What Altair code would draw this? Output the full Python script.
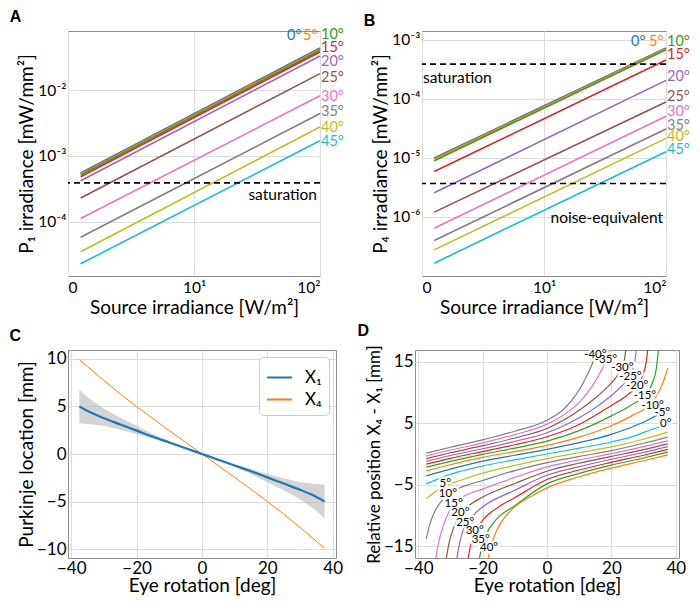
import altair as alt
import pandas as pd

FONT = "Lato"
TAB10 = ["#1f77b4", "#ff7f0e", "#2ca02c", "#d62728", "#9467bd",
         "#8c564b", "#e377c2", "#7f7f7f", "#bcbd22", "#17becf"]

# ---------------- Panels A / B ----------------
angles = ["0°", "5°", "10°", "15°", "20°", "25°", "30°", "35°", "40°", "45°"]
source_irr = [1.26, 100.0]
p1_at_start = [5.5e-4, 5.3e-4, 5.1e-4, 4.8e-4, 4.2e-4, 2.3e-4, 1.12e-4, 5.8e-5, 3.5e-5, 2.3e-5]
p1_at_end = [4.35e-2, 4.2e-2, 4.0e-2, 3.8e-2, 3.3e-2, 1.78e-2, 8.2e-3, 4.4e-3, 2.75e-3, 1.7e-3]
p4_at_start = [1.0e-5, 9.6e-6, 9.0e-6, 5.9e-6, 2.57e-6, 1.21e-6, 6.45e-7, 4.0e-7, 2.77e-7, 1.65e-7]
p4_at_end = [7.3e-4, 7.1e-4, 6.8e-4, 4.57e-4, 2.07e-4, 8.9e-5, 5.1e-5, 3.1e-5, 2.15e-5, 1.28e-5]
p1_saturation = 3.9e-4
p4_saturation = 3.9e-4
p4_noise = 3.7e-6

# ---------------- Panel C ----------------
eye_rot = [-37.5, -35, -30, -25, -20, -15, -10, -5, 0, 5, 10, 15, 20, 25, 30, 35, 37.5]
x1_mean = [4.97, 4.5, 3.75, 3.1, 2.45, 1.8, 1.2, 0.6, 0, -0.6, -1.2, -1.8, -2.45, -3.1, -3.75, -4.5, -4.97]
x1_upper = [6.75, 5.95, 4.75, 3.8, 2.95, 2.1, 1.35, 0.65, 0, -0.55, -1.1, -1.6, -2.1, -2.55, -2.95, -3.15, -3.2]
x1_lower = [3.2, 3.15, 2.95, 2.55, 2.1, 1.6, 1.1, 0.55, 0, -0.65, -1.35, -2.1, -2.95, -3.8, -4.75, -5.95, -6.75]
x4_vals = [9.88, 9.15, 7.7, 6.3, 4.97, 3.7, 2.45, 1.22, 0, -1.22, -2.45, -3.7, -4.97, -6.3, -7.7, -9.15, -9.88]

# ---------------- Panel D (contour lines) ----------------
d_levels = ["-40°", "-35°", "-30°", "-25°", "-20°", "-15°", "-10°", "-5°", "0°",
            "5°", "10°", "15°", "20°", "25°", "30°", "35°", "40°"]
d_colors = ["#7f7f7f", "#e377c2", "#8c564b", "#9467bd", "#d62728", "#2ca02c", "#ff7f0e", "#1f77b4", "#17becf",
            "#bcbd22", "#7f7f7f", "#e377c2", "#8c564b", "#9467bd", "#d62728", "#2ca02c", "#ff7f0e"]
d_u = {
    "-40°": [-37.5, -30, -20, -10, 0, 5, 9, 12, 14, 15.5, 16],
    "-35°": [-37.5, -30, -20, -10, 0, 5, 10, 14, 16.5, 18.2, 19.5],
    "-30°": [-37.5, -30, -20, -10, 0, 10, 15, 19, 21.7, 23.3, 24.1, 24.5],
    "-25°": [-37.5, -30, -20, -10, 0, 10, 15, 20, 23.5, 25.8, 27.1, 27.8],
    "-20°": [-37.5, -30, -20, -10, 0, 10, 20, 25, 27.8, 29.8, 30.8, 31.3],
    "-15°": [-37.5, -30, -20, -10, 0, 10, 20, 26, 30.5, 32.7, 34, 34.6],
    "-10°": [-37.5, -30, -20, -10, 0, 10, 20, 27, 32.3, 35, 36.5, 37.5],
    "-5°": [-37.5, -30, -20, -10, 0, 10, 20, 27, 32, 35.5, 37.5],
    "0°": [-37.5, -30, -20, -10, 0, 10, 20, 27, 32, 35.5, 37.5],
    "5°": [-37.5, -35, -32, -27, -20, -10, 0, 10, 20, 30, 37.5],
    "10°": [-37.5, -36.5, -35, -33, -30, -25, -20, -10, 0, 10, 20, 30, 37.5],
    "15°": [-34.6, -33.6, -32, -30, -27, -20, -10, 0, 10, 20, 30, 37.5],
    "20°": [-31.3, -30.4, -29, -27, -24, -20, -10, 0, 10, 20, 30, 37.5],
    "25°": [-28, -27.2, -25.8, -23, -20, -10, 0, 10, 20, 30, 37.5],
    "30°": [-24.5, -23.8, -22.5, -20, -15, -10, 0, 10, 20, 30, 37.5],
    "35°": [-21, -20.3, -19, -16, -10, 0, 10, 20, 30, 37.5],
    "40°": [-18.3, -17.3, -15.5, -13, -10, -5, 0, 10, 20, 30, 37.5],
}
d_v = {
    "-40°": [0.15, 1.1, 2.3, 3.7, 5.5, 7.2, 9.6, 12.3, 14.6, 16.6, 17.2],
    "-35°": [-0.3, 0.65, 1.8, 3.15, 4.85, 6.3, 8.4, 11.0, 13.2, 15.0, 17],
    "-30°": [-0.75, 0.2, 1.35, 2.6, 4.15, 7.1, 9.1, 11.0, 12.6, 13.9, 15.5, 17],
    "-25°": [-1.2, -0.25, 0.85, 2.05, 3.45, 5.9, 7.5, 9.5, 11.2, 12.6, 14.6, 17],
    "-20°": [-1.65, -0.7, 0.4, 1.5, 2.8, 4.8, 7.9, 9.6, 11.0, 12.9, 14.9, 17],
    "-15°": [-2.15, -1.2, -0.05, 0.95, 2.1, 3.8, 6.2, 7.9, 9.6, 11.5, 14.0, 17],
    "-10°": [-2.75, -1.75, -0.55, 0.4, 1.4, 2.75, 4.6, 6.4, 8.2, 10.4, 12.3, 14.0],
    "-5°": [-3.55, -2.45, -1.15, -0.2, 0.75, 1.85, 3.2, 4.5, 5.7, 6.7, 7.3],
    "0°": [-4.85, -3.3, -1.95, -0.95, 0, 0.95, 1.95, 2.9, 3.9, 4.5, 4.85],
    "5°": [-7.3, -6.2, -5.3, -4.3, -3.1, -1.85, -0.75, 0.2, 1.15, 2.4, 3.55],
    "10°": [-13.8, -11.6, -9.5, -7.8, -6.3, -5.1, -4.3, -2.7, -1.4, -0.4, 0.55, 1.75, 2.75],
    "15°": [-17, -14.2, -11.3, -9.0, -7.3, -5.7, -3.8, -2.1, -0.95, 0.05, 1.2, 2.15],
    "20°": [-17, -14.4, -12, -9.9, -8.3, -7.0, -4.8, -2.8, -1.5, -0.4, 0.7, 1.65],
    "25°": [-17, -14.6, -12.0, -10.0, -8.6, -5.9, -3.45, -2.05, -0.85, 0.25, 1.2],
    "30°": [-17, -15, -12.9, -10.8, -8.6, -7.1, -4.15, -2.6, -1.35, -0.2, 0.75],
    "35°": [-17, -15.2, -13.2, -10.8, -8.4, -4.85, -3.15, -1.8, -0.65, 0.3],
    "40°": [-17, -14.8, -12.3, -10.2, -8.6, -6.9, -5.5, -3.7, -2.3, -1.1, -0.15],
}
d_label_u = [15.0, 18.3, 23.4, 25.9, 28.0, 30.4, 32.8, 35.8, 36.9,
             -31.6, -30.8, -29.0, -26.9, -25.4, -22.45, -20.6, -18.0]
d_label_v = [16.1, 15.2, 13.9, 12.5, 11.0, 9.35, 7.75, 6.6, 4.85,
             -4.9, -6.55, -8.05, -9.65, -11.15, -12.5, -13.95, -15.3]

# ---------------- styling ----------------
LOG_LBL = 15.5
LIN_LBL = 17
TTL = 19
ANG_FS = 14.5
LETTER = dict(anchor="start", frame="bounds", fontSize=16, font="Liberation Sans", fontWeight="bold")


def log_panel(title, ytitle, start, end, ydom, yticks, ylabelexpr, lab_offsets, hlines, texts, width):
    rows = []
    for a, s, e in zip(angles, start, end):
        rows.append({"angle": a, "x": source_irr[0], "y": s})
        rows.append({"angle": a, "x": source_irr[1], "y": e})
    df = pd.DataFrame(rows)
    xenc = alt.X("x:Q", scale=alt.Scale(type="log", domain=[1, 100], nice=False),
                 axis=alt.Axis(values=[1, 10, 100], title="Source irradiance [W/m²]",
                               labelFontSize=LOG_LBL, labelPadding=4, titlePadding=3,
                               labelExpr="datum.value == 1 ? '0' : (datum.value == 10 ? '10¹' : '10²')"))
    yenc = alt.Y("y:Q", scale=alt.Scale(type="log", domain=ydom, nice=False),
                 axis=alt.Axis(values=yticks, title=ytitle, labelExpr=ylabelexpr,
                               labelFontSize=LOG_LBL, labelPadding=2, titlePadding=1))
    lines = alt.Chart(df).mark_line(strokeWidth=1.6).encode(
        x=xenc, y=yenc,
        color=alt.Color("angle:N", scale=alt.Scale(domain=angles, range=TAB10), legend=None),
        detail="angle:N")
    layers = [lines]
    for val in hlines:
        layers.append(alt.Chart().mark_rule(color="black", strokeDash=[6, 4], strokeWidth=1.6)
                      .encode(y=alt.datum(val)))
    for (txt, xv, yv, align, dx, dy) in texts:
        layers.append(alt.Chart().mark_text(font=FONT, fontSize=15.5, align=align, baseline="middle",
                                            dx=dx, dy=dy, color="black")
                      .encode(x=alt.datum(xv), y=alt.datum(yv), text=alt.value(txt)))
    for a, e, c in zip(angles, end, TAB10):
        dx, dy = lab_offsets[a]
        layers.append(alt.Chart().mark_text(font=FONT, fontSize=ANG_FS, align="left", baseline="middle",
                                            dx=dx, dy=dy, color=c)
                      .encode(x=alt.datum(100), y=alt.datum(e), text=alt.value(a)))
    return alt.layer(*layers).properties(
        width=width, height=245,
        title=alt.TitleParams(title, offset=2, dx=-8, **LETTER))


a_offsets = {"0°": (-33, -12.5), "5°": (-17, -13.5), "10°": (1, -15), "15°": (1, -4.4), "20°": (1, 6.5),
             "25°": (1, 4.5), "30°": (1, 1), "35°": (1, -2), "40°": (1, 1), "45°": (1, 1)}
b_offsets = {"0°": (-35, -6.5), "5°": (-17, -7), "10°": (1, -8.3), "15°": (1, -5.4), "20°": (1, -3.3),
             "25°": (1, -4.6), "30°": (1, -3.8), "35°": (1, -3.5), "40°": (1, -1.3), "45°": (1, -1.9)}

panel_a = log_panel(
    "A", "P₁ irradiance [mW/mm²]", p1_at_start, p1_at_end, [1.5e-5, 0.079],
    [1e-4, 1e-3, 1e-2],
    "datum.value < 5e-4 ? '10⁻⁴' : (datum.value < 5e-3 ? '10⁻³' : '10⁻²')",
    a_offsets, [p1_saturation],
    [("saturation", 100, p1_saturation, "right", -3, 12)], 252)

panel_b = log_panel(
    "B", "P₄ irradiance [mW/mm²]", p4_at_start, p4_at_end, [1e-7, 1.42e-3],
    [1e-6, 1e-5, 1e-4, 1e-3],
    "datum.value < 5e-6 ? '10⁻⁶' : (datum.value < 5e-5 ? '10⁻⁵' : (datum.value < 5e-4 ? '10⁻⁴' : '10⁻³'))",
    b_offsets, [p4_saturation, p4_noise],
    [("saturation", 1, p4_saturation, "left", 1, 14),
     ("noise-equivalent", 100, p4_noise, "right", -3, 35)], 244)

# ---------------- Panel C ----------------
cdf = pd.DataFrame({"u": eye_rot, "lo": x1_lower, "hi": x1_upper})
ldf = pd.DataFrame({"u": eye_rot * 2, "v": x1_mean + x4_vals,
                    "series": ["X₁"] * len(eye_rot) + ["X₄"] * len(eye_rot)})
lin_axis = dict(labelFontSize=LIN_LBL, labelPadding=2, titlePadding=0)
cx = alt.X("u:Q", scale=alt.Scale(domain=[-41, 41], nice=False),
           axis=alt.Axis(values=[-40, -20, 0, 20, 40], title="Eye rotation [deg]", **lin_axis))
ccolor = alt.Color("series:N", scale=alt.Scale(domain=["X₁", "X₄"], range=["#1f77b4", "#ff7f0e"]),
                   legend=alt.Legend(title=None, orient="top-right", offset=7, padding=7,
                                     strokeColor="#cccccc", fillColor="white", cornerRadius=4,
                                     labelFontSize=17, labelFont=FONT, symbolType="stroke",
                                     symbolSize=620, symbolStrokeWidth=2, rowPadding=0,
                                     labelOffset=12))
band = alt.Chart(cdf).mark_area(color="#b0b0b0", opacity=0.55).encode(
    x=cx, y=alt.Y("lo:Q", scale=alt.Scale(domain=[-10.9, 10.9], nice=False),
                  axis=alt.Axis(values=[-10, -5, 0, 5, 10], title="Purkinje location [mm]", **lin_axis)),
    y2="hi:Q")
line_x1 = alt.Chart(ldf).transform_filter(alt.datum.series == "X₁").mark_line(
    strokeWidth=2.2, interpolate="monotone").encode(x=cx, y="v:Q", color=ccolor)
line_x4 = alt.Chart(ldf).transform_filter(alt.datum.series == "X₄").mark_line(
    strokeWidth=1, interpolate="monotone").encode(x=cx, y="v:Q", color=ccolor)
panel_c = alt.layer(band, line_x4, line_x1).properties(
    width=268, height=208, title=alt.TitleParams("C", offset=6, dx=-8, **LETTER))

# ---------------- Panel D ----------------
drows = []
for lev in d_levels:
    for uu, vv in zip(d_u[lev], d_v[lev]):
        drows.append({"level": lev, "u": uu, "v": vv})
ddf = pd.DataFrame(drows)
dlab = pd.DataFrame({"level": d_levels, "u": d_label_u, "v": d_label_v})
dx_enc = alt.X("u:Q", scale=alt.Scale(domain=[-41, 41], nice=False),
               axis=alt.Axis(values=[-40, -20, 0, 20, 40], title="Eye rotation [deg]", **lin_axis))
dy_enc = alt.Y("v:Q", scale=alt.Scale(domain=[-16.9, 16.9], nice=False),
               axis=alt.Axis(values=[-15, -10, -5, 0, 5, 10, 15], titleFontSize=17,
                             title="Relative position X₄ - X₁ [mm]", **lin_axis))
dlines = alt.Chart(ddf).mark_line(strokeWidth=1.2, interpolate="monotone", clip=True).encode(
    x=dx_enc, y=dy_enc,
    color=alt.Color("level:N", scale=alt.Scale(domain=d_levels, range=d_colors), legend=None),
    detail="level:N")
dhalo = alt.Chart(dlab).mark_text(font=FONT, fontSize=11.5, color="white", stroke="white",
                                  strokeWidth=5, strokeJoin="round").encode(
    x="u:Q", y="v:Q", text="level:N")
dtext = alt.Chart(dlab).mark_text(font=FONT, fontSize=11.5, color="black").encode(
    x="u:Q", y="v:Q", text="level:N")
panel_d = alt.layer(dlines, dhalo, dtext).properties(
    width=264, height=208, title=alt.TitleParams("D", offset=6, dx=-8, **LETTER))

top = alt.hconcat(panel_a, panel_b, spacing=18).resolve_scale(color="independent")
bottom = alt.hconcat(panel_c, panel_d, spacing=12).resolve_scale(color="independent")
chart = alt.vconcat(top, bottom, spacing=4).resolve_scale(color="independent").properties(
    padding={"left": 0, "top": 0, "right": 0, "bottom": 0}
).configure_view(stroke="#8c8c8c", strokeWidth=1).configure_axis(
    labelFont=FONT, labelColor="black", titleFont=FONT, titleFontSize=TTL,
    titleFontWeight="normal", titleColor="black", gridColor="#dcdcdc", gridWidth=1,
    ticks=False, domain=False
)

chart.save("out.html", embed_options={"renderer": "svg", "actions": False})
